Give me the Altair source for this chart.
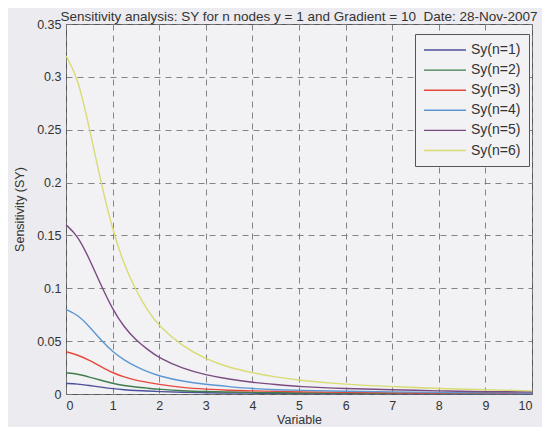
import altair as alt
import pandas as pd

x_vals = [0, 0.25, 0.5, 0.75, 1, 1.25, 1.5, 1.75, 2, 2.5, 3, 3.5, 4, 4.5, 5, 6, 7, 8, 9, 10]
sy1 = [0.010, 0.0095, 0.008, 0.0065, 0.005, 0.004, 0.0033, 0.0028, 0.0023, 0.0016, 0.0012, 0.0009, 0.0008, 0.0006, 0.0005, 0.0004, 0.0003, 0.0003, 0.0002, 0.0002]
sy2 = [0.020, 0.019, 0.016, 0.013, 0.010, 0.008, 0.0065, 0.0055, 0.0045, 0.003, 0.0023, 0.0018, 0.0015, 0.0012, 0.001, 0.0008, 0.0006, 0.0005, 0.0004, 0.0004]
sy3 = [0.040, 0.037, 0.032, 0.026, 0.020, 0.016, 0.013, 0.011, 0.009, 0.006, 0.0045, 0.0035, 0.003, 0.0025, 0.002, 0.0015, 0.001, 0.001, 0.0008, 0.0007]
sy4 = [0.080, 0.075, 0.064, 0.051, 0.040, 0.032, 0.026, 0.021, 0.017, 0.012, 0.009, 0.007, 0.005, 0.004, 0.0035, 0.0025, 0.002, 0.0015, 0.001, 0.001]
sy5 = [0.160, 0.150, 0.128, 0.103, 0.080, 0.063, 0.051, 0.042, 0.034, 0.024, 0.018, 0.014, 0.011, 0.009, 0.007, 0.005, 0.004, 0.003, 0.002, 0.002]
sy6 = [0.320, 0.300, 0.252, 0.200, 0.155, 0.122, 0.098, 0.079, 0.064, 0.045, 0.033, 0.025, 0.020, 0.016, 0.013, 0.009, 0.007, 0.005, 0.004, 0.003]

series_names = ["Sy(n=1)", "Sy(n=2)", "Sy(n=3)", "Sy(n=4)", "Sy(n=5)", "Sy(n=6)"]
series_vals = [sy1, sy2, sy3, sy4, sy5, sy6]
colors = ["#4d519c", "#3f7d4c", "#e6483b", "#5b97d2", "#7a4b82", "#d8dc72"]

rows = []
for name, vals in zip(series_names, series_vals):
    for xv, yv in zip(x_vals, vals):
        rows.append({"x": xv, "y": yv, "series": name})
df = pd.DataFrame(rows)

x_ticks = list(range(0, 11))
y_ticks = [0, 0.05, 0.1, 0.15, 0.2, 0.25, 0.3, 0.35]

chart = alt.Chart(df).mark_line(strokeWidth=1.4, interpolate="basis").encode(
    x=alt.X("x:Q", title="Variable",
            scale=alt.Scale(domain=[0, 10], nice=False),
            axis=alt.Axis(values=x_ticks, format="d")),
    y=alt.Y("y:Q", title="Sensitivity (SY)",
            scale=alt.Scale(domain=[0, 0.35], nice=False),
            axis=alt.Axis(values=y_ticks, format="~g")),
    color=alt.Color("series:N", sort=series_names,
                    scale=alt.Scale(domain=series_names, range=colors),
                    legend=alt.Legend(title=None, orient="none", legendX=349, legendY=10,
                                      symbolType="M-3,0H3", symbolSize=196, symbolStrokeWidth=1.4,
                                      symbolOffset=14,
                                      labelFontSize=14, labelFont="Liberation Sans", labelColor="#333333",
                                      rowPadding=5.1, labelOffset=18,
                                      padding=8, strokeColor="#555555", fillColor="#f2f1f4"))
).properties(
    width=466, height=370,
    title=alt.Title("Sensitivity analysis: SY for n nodes y = 1 and Gradient = 10\u00a0 Date: 28-Nov-2007",
                    fontSize=13.5, font="Liberation Sans", fontWeight="normal", color="#333333",
                    offset=3, baseline="alphabetic", dy=19, frame="group"),
    padding={"left": 58, "top": 16, "right": 10, "bottom": 33},
    autosize=alt.AutoSizeParams(type="none"),
    background="#ecebef"
).configure_view(
    stroke="#555555", strokeWidth=1, fill="#f2f1f4"
).configure_axis(
    grid=True, gridColor="#777777", gridDash=[6, 5], gridWidth=1, gridOpacity=0.9,
    domain=False, ticks=False,
    labelFont="Liberation Sans", labelFontSize=12.5, labelColor="#333333", labelPadding=5,
    titleFont="Liberation Sans", titleFontSize=12.5, titleFontWeight="normal", titleColor="#333333"
).configure_axisY(titlePadding=10).configure_axisX(titlePadding=2)

chart.save("out.html", embed_options={"renderer": "svg", "actions": False})
